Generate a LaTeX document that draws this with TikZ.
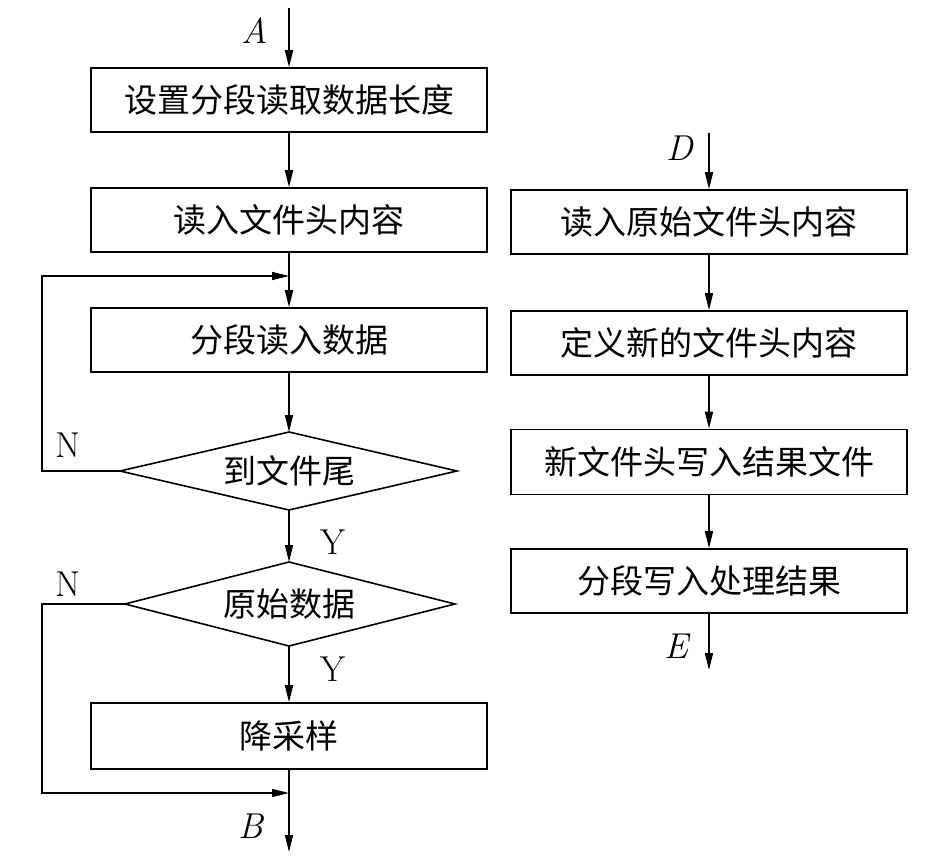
\documentclass[tikz,border=0pt]{standalone}
\usepackage{fontspec}
\newfontfamily\cjk{Noto Sans CJK SC}
\usetikzlibrary{arrows.meta}
\begin{document}
\begin{tikzpicture}[x=1pt,y=-1pt,
  line width=1.6pt,
  >={Triangle[length=17pt,width=8pt]},
  procbox/.style={draw,rectangle,minimum width=396pt,minimum height=64pt,inner sep=0pt,font=\cjk\fontsize{33}{39}\selectfont},
  dtext/.style={inner sep=0pt,font=\cjk\fontsize{33}{39}\selectfont},
  lbl/.style={font=\fontsize{36}{42}\selectfont,inner sep=0pt}]
\useasboundingbox (0,0) rectangle (945,862);
% left column
\node[procbox] (b1) at (289,100) {设置分段读取数据长度};
\node[procbox] (b2) at (289,220) {读入文件头内容};
\node[procbox] (b3) at (289,340) {分段读入数据};
\node[dtext] (d1) at (289,471) {到文件尾};
\coordinate (d1n) at (289,432);
\coordinate (d1s) at (289,510);
\coordinate (d1w) at (120,471);
\coordinate (d1e) at (457,471);
\draw (d1n) -- (d1e) -- (d1s) -- (d1w) -- cycle;
\node[dtext] (d2) at (289,604) {原始数据};
\coordinate (d2n) at (289,562);
\coordinate (d2s) at (289,646);
\coordinate (d2w) at (125,604);
\coordinate (d2e) at (455,604);
\draw (d2n) -- (d2e) -- (d2s) -- (d2w) -- cycle;
\node[procbox,minimum height=66pt] (b4) at (289,736) {降采样};
\coordinate (a0) at (289,8);
\coordinate (j1) at (289,276);
\coordinate (j2) at (289,793);
\coordinate (bend) at (289,852);
\draw[->] (a0) -- (b1.north);
\draw[->] (b1) -- (b2);
\draw[->] (b2.south) -- (b3.north);
\draw[->] (b3) -- (d1n);
\draw[->] (d1s) -- (d2n);
\draw[->] (d2s) -- (b4.north);
\draw (b4.south) -- (j2);
\draw[->] (j2) -- (bend);
\draw[->] (d1w) -- (42,471) -- (42,276) -- (j1);
\draw[->] (d2w) -- (42,604) -- (42,793) -- (j2);
\node[lbl] at (255,31) {\itshape A};
\node[lbl] at (251,826) {\itshape B};
\node[lbl] at (68,445) {N};
\node[lbl] at (68,584) {N};
\node[lbl] at (333,542) {Y};
\node[lbl] at (333,669) {Y};
% right column
\node[procbox] (r1) at (709,222) {读入原始文件头内容};
\node[procbox] (r2) at (709,343) {定义新的文件头内容};
\node[procbox,minimum height=65pt] (r3) at (709,462) {新文件头写入结果文件};
\node[procbox] (r4) at (709,581) {分段写入处理结果};
\coordinate (d0) at (709,133);
\coordinate (e0) at (709,670);
\draw[->] (d0) -- (r1.north);
\draw[->] (r1) -- (r2);
\draw[->] (r2) -- (r3);
\draw[->] (r3) -- (r4);
\draw[->] (r4.south) -- (e0);
\node[lbl] at (680,148) {\itshape D};
\node[lbl] at (676,646) {\itshape E};
\end{tikzpicture}
\end{document}
